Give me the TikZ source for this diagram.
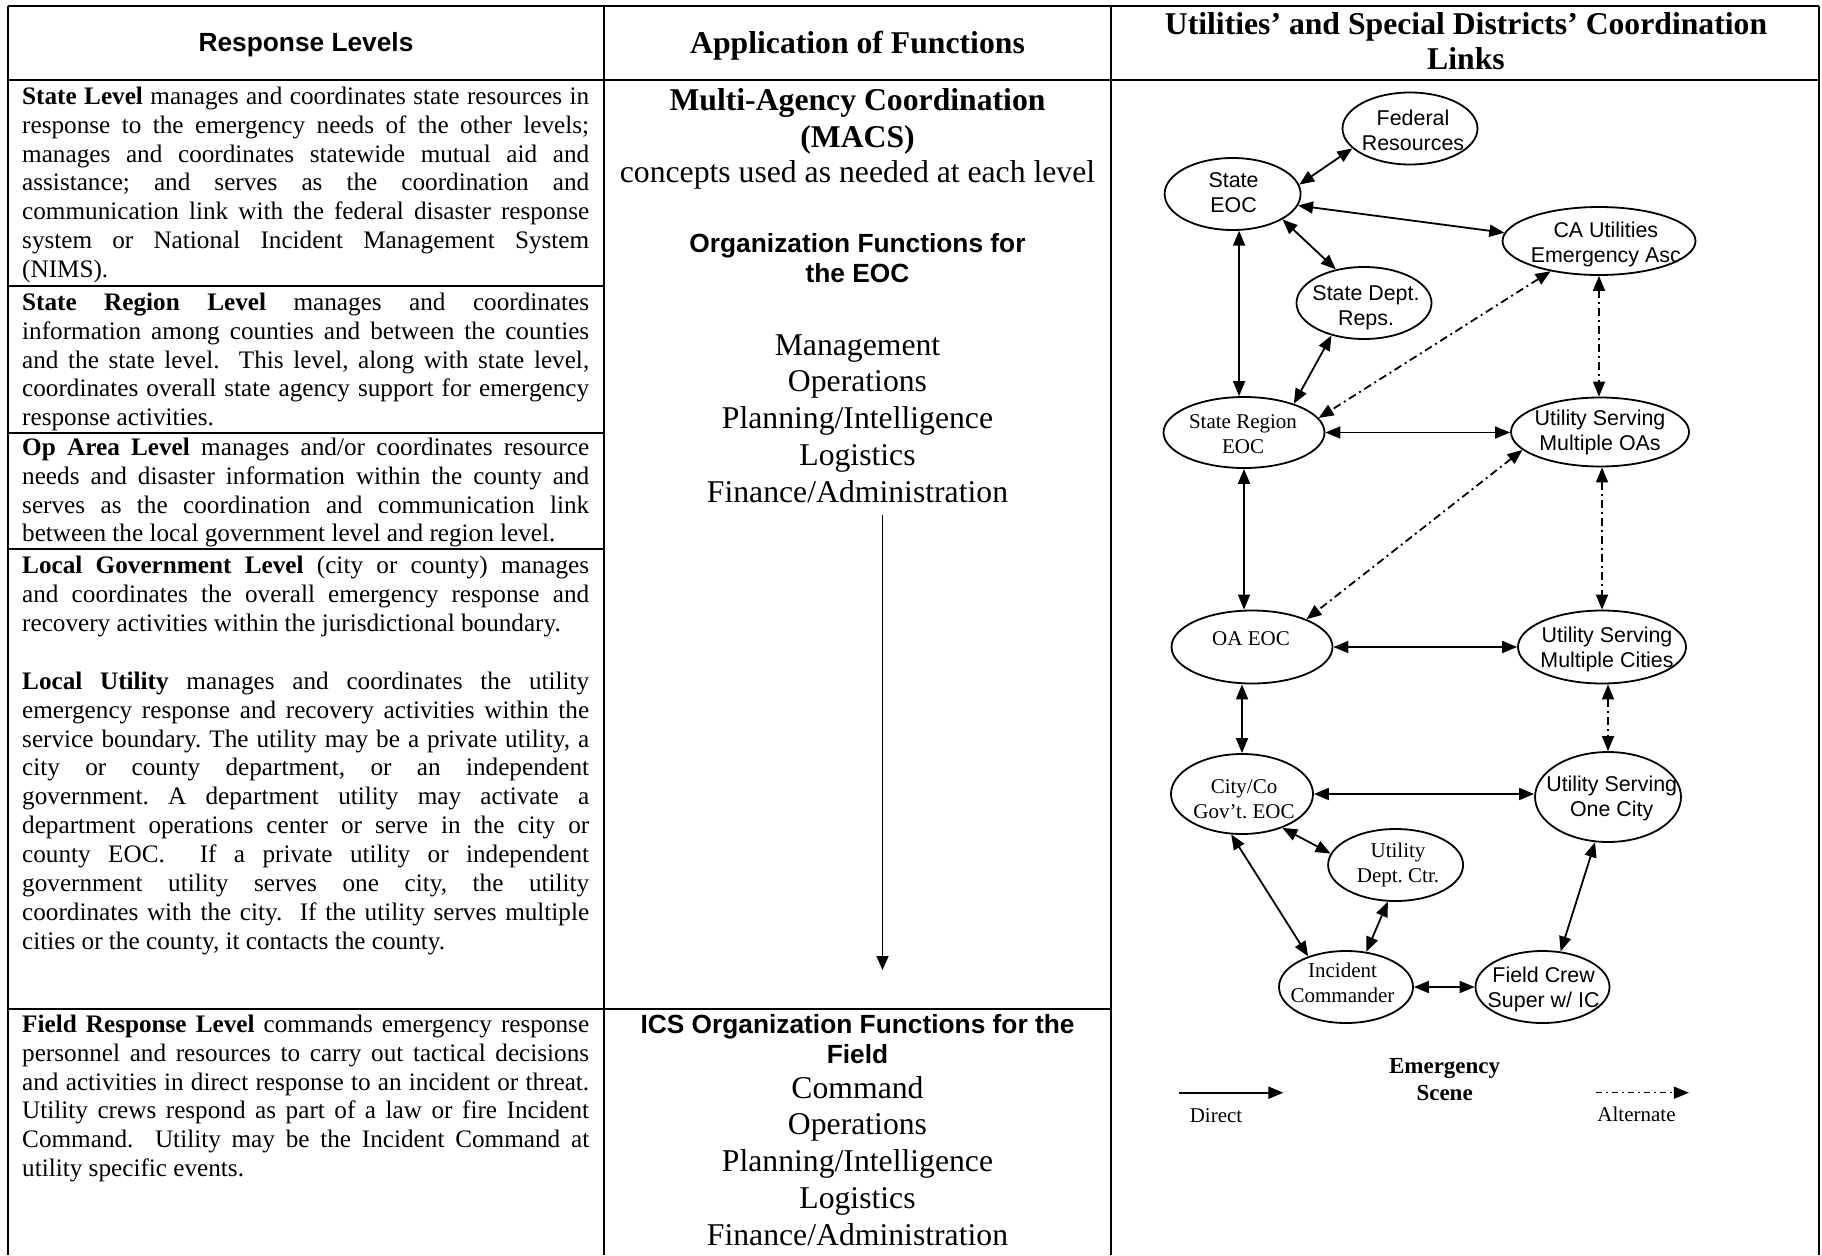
\documentclass[tikz,border=0pt]{standalone}
\usepackage{fontspec}
\setmainfont{Liberation Serif}
\newfontfamily\arialf{Liberation Sans}
\usetikzlibrary{arrows.meta,shapes.geometric,calc}
\frenchspacing
\setlength\parindent{0pt}
\setlength\parskip{0pt}
\tikzset{
 tbl/.style={line width=1.7pt},
 ell/.style={draw, ellipse, line width=1.8pt, inner sep=0pt},
 dA/.style={font=\arialf\fontsize{21.4}{25}\selectfont, align=center, inner sep=0pt},
 dT/.style={font=\fontsize{21}{25}\selectfont, align=center, inner sep=0pt},
 Tri/.tip={Triangle[length=15pt,width=12pt]},
 dbl/.style={line width=1.8pt, Tri-Tri},
 alt/.style={dbl, dash pattern=on 8pt off 4pt on 2pt off 4pt},
 para/.style={anchor=north west, inner sep=0pt, text width=567pt, align=justify, font=\fontsize{25.2}{28.9}\selectfont},
 c2/.style={anchor=base, inner sep=0pt, font=\fontsize{31.7}{36.8}\selectfont},
 c2b/.style={anchor=base, inner sep=0pt, font=\bfseries\fontsize{31.7}{36.8}\selectfont},
 hA/.style={anchor=base, inner sep=0pt, font=\arialf\bfseries\fontsize{26.3}{30}\selectfont},
 lg/.style={anchor=base, inner sep=0pt, font=\fontsize{21}{25}\selectfont},
 lgb/.style={anchor=base, inner sep=0pt, font=\bfseries\fontsize{23}{27}\selectfont},
}
\begin{document}
\begin{tikzpicture}[x=1pt,y=-1pt]
\useasboundingbox (0,0) rectangle (1822,1255);
\fill[white] (0,0) rectangle (1822,1255);
% table grid
\draw[tbl] (8,6) -- (1819,6);
\draw[tbl] (8,80) -- (1819,80);
\draw[tbl] (8,286) -- (604,286);
\draw[tbl] (8,433) -- (604,433);
\draw[tbl] (8,549) -- (604,549);
\draw[tbl] (8,1009) -- (1111,1009);
\draw[tbl] (8,6) -- (8,1255);
\draw[tbl] (604,6) -- (604,1255);
\draw[tbl] (1111,6) -- (1111,1255);
\draw[tbl] (1819,6) -- (1819,1255);
% headers
\node[hA] (resp) at (306,52) {Response Levels};
\node[c2b] (app) at (857.5,53) {Application of Functions};
\node[c2b] (util1) at (1466,35) {Utilities’ and Special Districts’ Coordination};
\node[c2b] (util2) at (1466,70) {Links};
% column 1
\node[para] (p1) at (22,83.77) {\strut\textbf{State Level} manages and coordinates state resources in\linebreak response to the emergency needs of the other levels;\linebreak manages and coordinates statewide mutual aid and\linebreak assistance; and serves as the coordination and\linebreak communication link with the federal disaster response\linebreak system or National Incident Management System\linebreak (NIMS).};
\node[para] (p2) at (22,289.77) {\strut\textbf{State Region Level} manages and coordinates\linebreak information among counties and between the counties\linebreak and the state level.\ \ This level, along with state level,\linebreak coordinates overall state agency support for emergency\linebreak response activities.};
\node[para] (p3) at (22,434.77) {\strut\textbf{Op Area Level} manages and/or coordinates resource\linebreak needs and disaster information within the county and\linebreak serves as the coordination and communication link\linebreak between the local government level and region level.};
\node[para] (p4) at (22,552.77) {\strut\textbf{Local Government Level} (city or county) manages\linebreak and coordinates the overall emergency response and\linebreak recovery activities within the jurisdictional boundary.};
\node[para] (p4b) at (22,668.77) {\strut\textbf{Local Utility} manages and coordinates the utility\linebreak emergency response and recovery activities within the\linebreak service boundary. The utility may be a private utility, a\linebreak city or county department, or an independent\linebreak government. A department utility may activate a\linebreak department operations center or serve in the city or\linebreak county EOC.\ \ If a private utility or independent\linebreak government utility serves one city, the utility\linebreak coordinates with the city.\ \ If the utility serves multiple\linebreak cities or the county, it contacts the county.};
\node[para] (p5) at (22,1011.77) {\strut\textbf{Field Response Level} commands emergency response\linebreak personnel and resources to carry out tactical decisions\linebreak and activities in direct response to an incident or threat.\linebreak Utility crews respond as part of a law or fire Incident\linebreak Command.\ \ Utility may be the Incident Command at\linebreak utility specific events.};
% column 2
\node[c2b] (macs1) at (857.5,110) {Multi-Agency Coordination};
\node[c2b] (macs2) at (857.5,147) {(MACS)};
\node[c2] (macs3) at (857.5,182) {concepts used as needed at each level};
\node[hA] (org1) at (857.5,252) {Organization Functions for};
\node[hA] (org2) at (857.5,282) {the EOC};
\node[c2] (f1) at (857.5,355) {Management};
\node[c2] (f2) at (857.5,391.8) {Operations};
\node[c2] (f3) at (857.5,428.6) {Planning/Intelligence};
\node[c2] (f4) at (857.5,465.4) {Logistics};
\node[c2] (f5) at (857.5,502.2) {Finance/Administration};
\coordinate (ca1) at (882.5,515);
\coordinate (ca2) at (882.5,970);
\draw[line width=1.7pt, -{Triangle[length=14pt,width=12pt]}] (ca1) -- (ca2);
\node[hA] (ics1) at (857.5,1033) {ICS Organization Functions for the};
\node[hA] (ics2) at (857.5,1063) {Field};
\node[c2] (g1) at (857.5,1098) {Command};
\node[c2] (g2) at (857.5,1134.8) {Operations};
\node[c2] (g3) at (857.5,1171.6) {Planning/Intelligence};
\node[c2] (g4) at (857.5,1208.4) {Logistics};
\node[c2] (g5) at (857.5,1245.2) {Finance/Administration};
% column 3 ellipses
\node[ell, minimum width=135pt, minimum height=72pt] (fed) at (1410,128.5) {};
\node[ell, minimum width=136pt, minimum height=72pt] (steoc) at (1232.6,194) {};
\node[ell, minimum width=193pt, minimum height=68pt] (caua) at (1599,241) {};
\node[ell, minimum width=135pt, minimum height=72pt] (reps) at (1364,303) {};
\node[ell, minimum width=161pt, minimum height=71pt] (sre) at (1244,432.5) {};
\node[ell, minimum width=178pt, minimum height=69pt] (usmoa) at (1600,432) {};
\node[ell, minimum width=161pt, minimum height=73pt] (oa) at (1252,647) {};
\node[ell, minimum width=168pt, minimum height=73pt] (usmc) at (1602,647) {};
\node[ell, minimum width=142pt, minimum height=80pt] (city) at (1242,794) {};
\node[ell, minimum width=146pt, minimum height=90pt] (usoc) at (1608,797) {};
\node[ell, minimum width=135pt, minimum height=72pt] (udc) at (1395.6,865) {};
\node[ell, minimum width=134pt, minimum height=72pt] (ic) at (1346,987) {};
\node[ell, minimum width=134pt, minimum height=72pt] (fc) at (1542.5,987) {};
% ellipse texts
\node[dA] (fedT) at (1413,132.5) {\strut Federal\\Resources\strut};
\node[dA] (steocT) at (1233.5,194.5) {\strut State\\EOC\strut};
\node[dA] (cauaT) at (1605.8,244.5) {\strut CA Utilities\\Emergency Asc\strut};
\node[dA] (repsT) at (1366,307.5) {\strut State Dept.\\Reps.\strut};
\node[dT] (sreT) at (1243,435.5) {\strut State Region\\EOC\strut};
\node[dA] (usmoaT) at (1600,432.5) {\strut Utility Serving\\Multiple OAs\strut};
\node[dT] (oaT) at (1251,640) {\strut OA EOC};
\node[dA] (usmcT) at (1607,649.5) {\strut Utility Serving\\Multiple Cities\strut};
\node[dT] (cityT) at (1244,800.5) {\strut City/Co\\Gov’t. EOC\strut};
\node[dA] (usocT) at (1611.7,798.5) {\strut Utility Serving\\One City\strut};
\node[dT] (udcT) at (1398,864.5) {\strut Utility\\Dept. Ctr.\strut};
\node[dT] (icT) at (1342.5,984.5) {\strut Incident\\Commander\strut};
\node[dA] (fcT) at (1543.6,989.5) {\strut Field Crew\\Super w/ IC\strut};
% connectors
\draw[dbl] (steoc.8) -- (fed.199);
\draw[dbl] (steoc.-10) -- (caua.175);
\draw[dbl] (steoc.-27) -- (reps.130);
\draw[dbl] (steoc.-80) -- (steoc.-80 |- sre.north);
\draw[dbl] (reps.225) -- (sre.30);
\draw[alt] (caua.212) -- (sre.11);
\draw[alt] (caua.south) -- (caua.south |- usmoa.north);
\draw[dbl] (sre.east) -- (sre.east -| usmoa.west);
\draw[alt] (usmoa.193) -- (oa.27);
\draw[alt] (usmc.north |- usmoa.south) -- (usmc.north);
\draw[dbl] (sre.south) -- (sre.south |- oa.north);
\draw[dbl] (oa.east) -- (oa.east -| usmc.west);
\draw[dbl] (city.north |- oa.south) -- (city.north);
\draw[alt] (usoc.north |- usmc.south) -- (usoc.north);
\draw[dbl] (city.east) -- (city.east -| usoc.west);
\draw[dbl] (city.-40) -- (udc.170);
\draw[dbl] (city.255) -- (ic.141);
\draw[dbl] (udc.258) -- (ic.60);
\draw[dbl] (usoc.254) -- (fc.63);
\draw[dbl] (ic.east) -- (fc.west);
% legend
\coordinate (d1) at (1179,1092.7);
\coordinate (d2) at (1283.4,1092.7);
\draw[line width=1.8pt, -Tri] (d1) -- (d2);
\node[lg] (dl) at (1216,1122.7) {Direct};
\coordinate (a1) at (1595.8,1092.7);
\coordinate (a2) at (1688.9,1092.7);
\draw[line width=1.5pt, dash pattern=on 6pt off 4pt on 2pt off 4pt, -Tri] (a1) -- (a2);
\node[lg] (al) at (1636.5,1121.7) {Alternate};
\node[lgb] (es1) at (1444.6,1073) {Emergency};
\node[lgb] (es2) at (1444.6,1100.7) {Scene};
\end{tikzpicture}
\end{document}
